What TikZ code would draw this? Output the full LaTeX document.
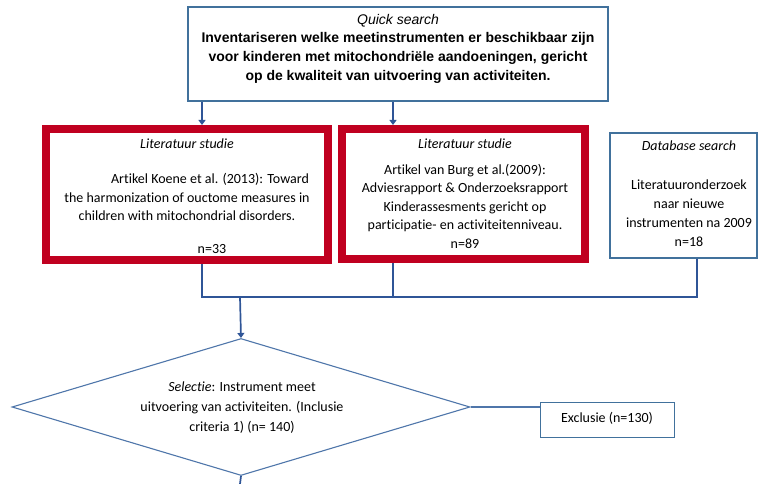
\documentclass[tikz,border=0pt]{standalone}
\usepackage{fontspec}
\setmainfont{Carlito}[Ligatures=NoCommon]
\newfontfamily\arialf{Liberation Sans}
\usetikzlibrary{arrows.meta,shapes.geometric}

\definecolor{linkblue}{RGB}{47,85,151}
\definecolor{frameblue}{RGB}{65,113,156}
\definecolor{softblue}{RGB}{79,118,170}
\definecolor{studyred}{RGB}{192,0,32}

\tikzset{
  conn/.style={draw=linkblue, line width=1.7pt},
  arr/.style={conn, -{Triangle[length=5pt,width=7pt]}},
  plainbox/.style={draw=frameblue, line width=1.2pt, fill=white, inner sep=0pt},
  redbox/.style={draw=studyred, line width=8pt, fill=white, inner sep=0pt},
  txt/.style={inner sep=0pt, align=center, font=\fontsize{14}{18.5}\selectfont},
  head/.style={inner sep=0pt, font=\fontsize{14}{16}\selectfont\itshape},
}

\begin{document}
\begin{tikzpicture}[x=1pt,y=-1pt]
\useasboundingbox (0,0) rectangle (761,484);

% column positions of the vertical connectors
\coordinate (c1) at (202,0);
\coordinate (c2) at (393,0);
\coordinate (c3) at (697,0);
\coordinate (j) at (240,297);
\coordinate (rail) at (0,297);
\coordinate (bottom) at (240,484);

% boxes
\node[plainbox, minimum width=420pt, minimum height=94pt] (top) at (398,54) {};
\node[redbox, minimum width=282pt, minimum height=131pt] (lit1) at (187,194.5) {};
\node[redbox, minimum width=243pt, minimum height=130pt] (lit2) at (463.5,194) {};
\node[plainbox, minimum width=147pt, minimum height=125pt] (db) at (683.5,195.5) {};
\node[draw=softblue, line width=1.1pt, fill=white, shape=diamond, inner sep=0pt,
      minimum width=458pt, minimum height=137pt] (sel) at (241,407) {};
\node[plainbox, line width=1pt, minimum width=134pt, minimum height=35pt] (excl) at (607,419.5) {};

% texts of the top box (multi-line nodes sit on their last baseline)
\node[inner sep=0pt, font=\arialf\fontsize{14}{16}\selectfont\itshape, anchor=base] (qs) at (398,25) {Quick search};
\node[inner sep=0pt, align=center, font=\arialf\bfseries\fontsize{14}{19}\selectfont, anchor=base] (qt) at (398,81)
  {Inventariseren welke meetinstrumenten er beschikbaar zijn\\
   voor kinderen met mitochondriële aandoeningen, gericht\\
   op de kwaliteit van uitvoering van activiteiten.};

% texts of the first study
\node[head, anchor=base] (h1) at (187,149) {Literatuur studie};
\node[txt, anchor=base] (b1) at (187,221)
  {\hspace*{46pt}Artikel Koene et al. (2013): Toward\\
   the harmonization of ouctome measures in\\
   children with mitochondrial disorders.};
\node[txt, anchor=base] (n1) at (212,254) {n=33};

% texts of the second study
\node[head, anchor=base] (h2) at (465,149) {Literatuur studie};
\node[txt, anchor=base] (b2) at (465,248)
  {Artikel van Burg et al.(2009):\\
   Adviesrapport \& Onderzoeksrapport\\
   Kinderassesments gericht op\\
   participatie- en activiteitenniveau.\\
   n=89};

% texts of the database search
\node[head, anchor=base] (h3) at (689,151) {Database search};
\node[txt, anchor=base, font=\fontsize{14}{19}\selectfont] (b3) at (689,246)
  {Literatuuronderzoek\\ naar nieuwe\\ instrumenten na 2009\\ n=18};

% selection and exclusion
\node[txt, anchor=base, font=\fontsize{14}{20}\selectfont] (st) at (242,431)
  {\textit{Selectie}: Instrument meet\\
   uitvoering van activiteiten. (Inclusie\\
   criteria 1) (n= 140)};
\node[txt, anchor=base] (et) at (607,422) {Exclusie (n=130)};

% connectors
\draw[arr] (top.south -| c1) -- (lit1.north -| c1);
\draw[arr] (top.south -| c2) -- (lit2.north -| c2);
\draw[conn] (lit1.south -| c1) -- (rail -| c1);
\draw[conn] (lit2.south -| c2) -- (rail -| c2);
\draw[conn] (db.south -| c3) -- (rail -| c3);
\draw[conn, line cap=rect] (rail -| c1) -- (rail -| c3);
\draw[arr] (j) -- (sel.north);
\draw[conn] (sel.south) -- (bottom);
\draw[draw=softblue, line width=1.3pt] (sel.east) -- (sel.east -| excl.west);
\end{tikzpicture}
\end{document}
